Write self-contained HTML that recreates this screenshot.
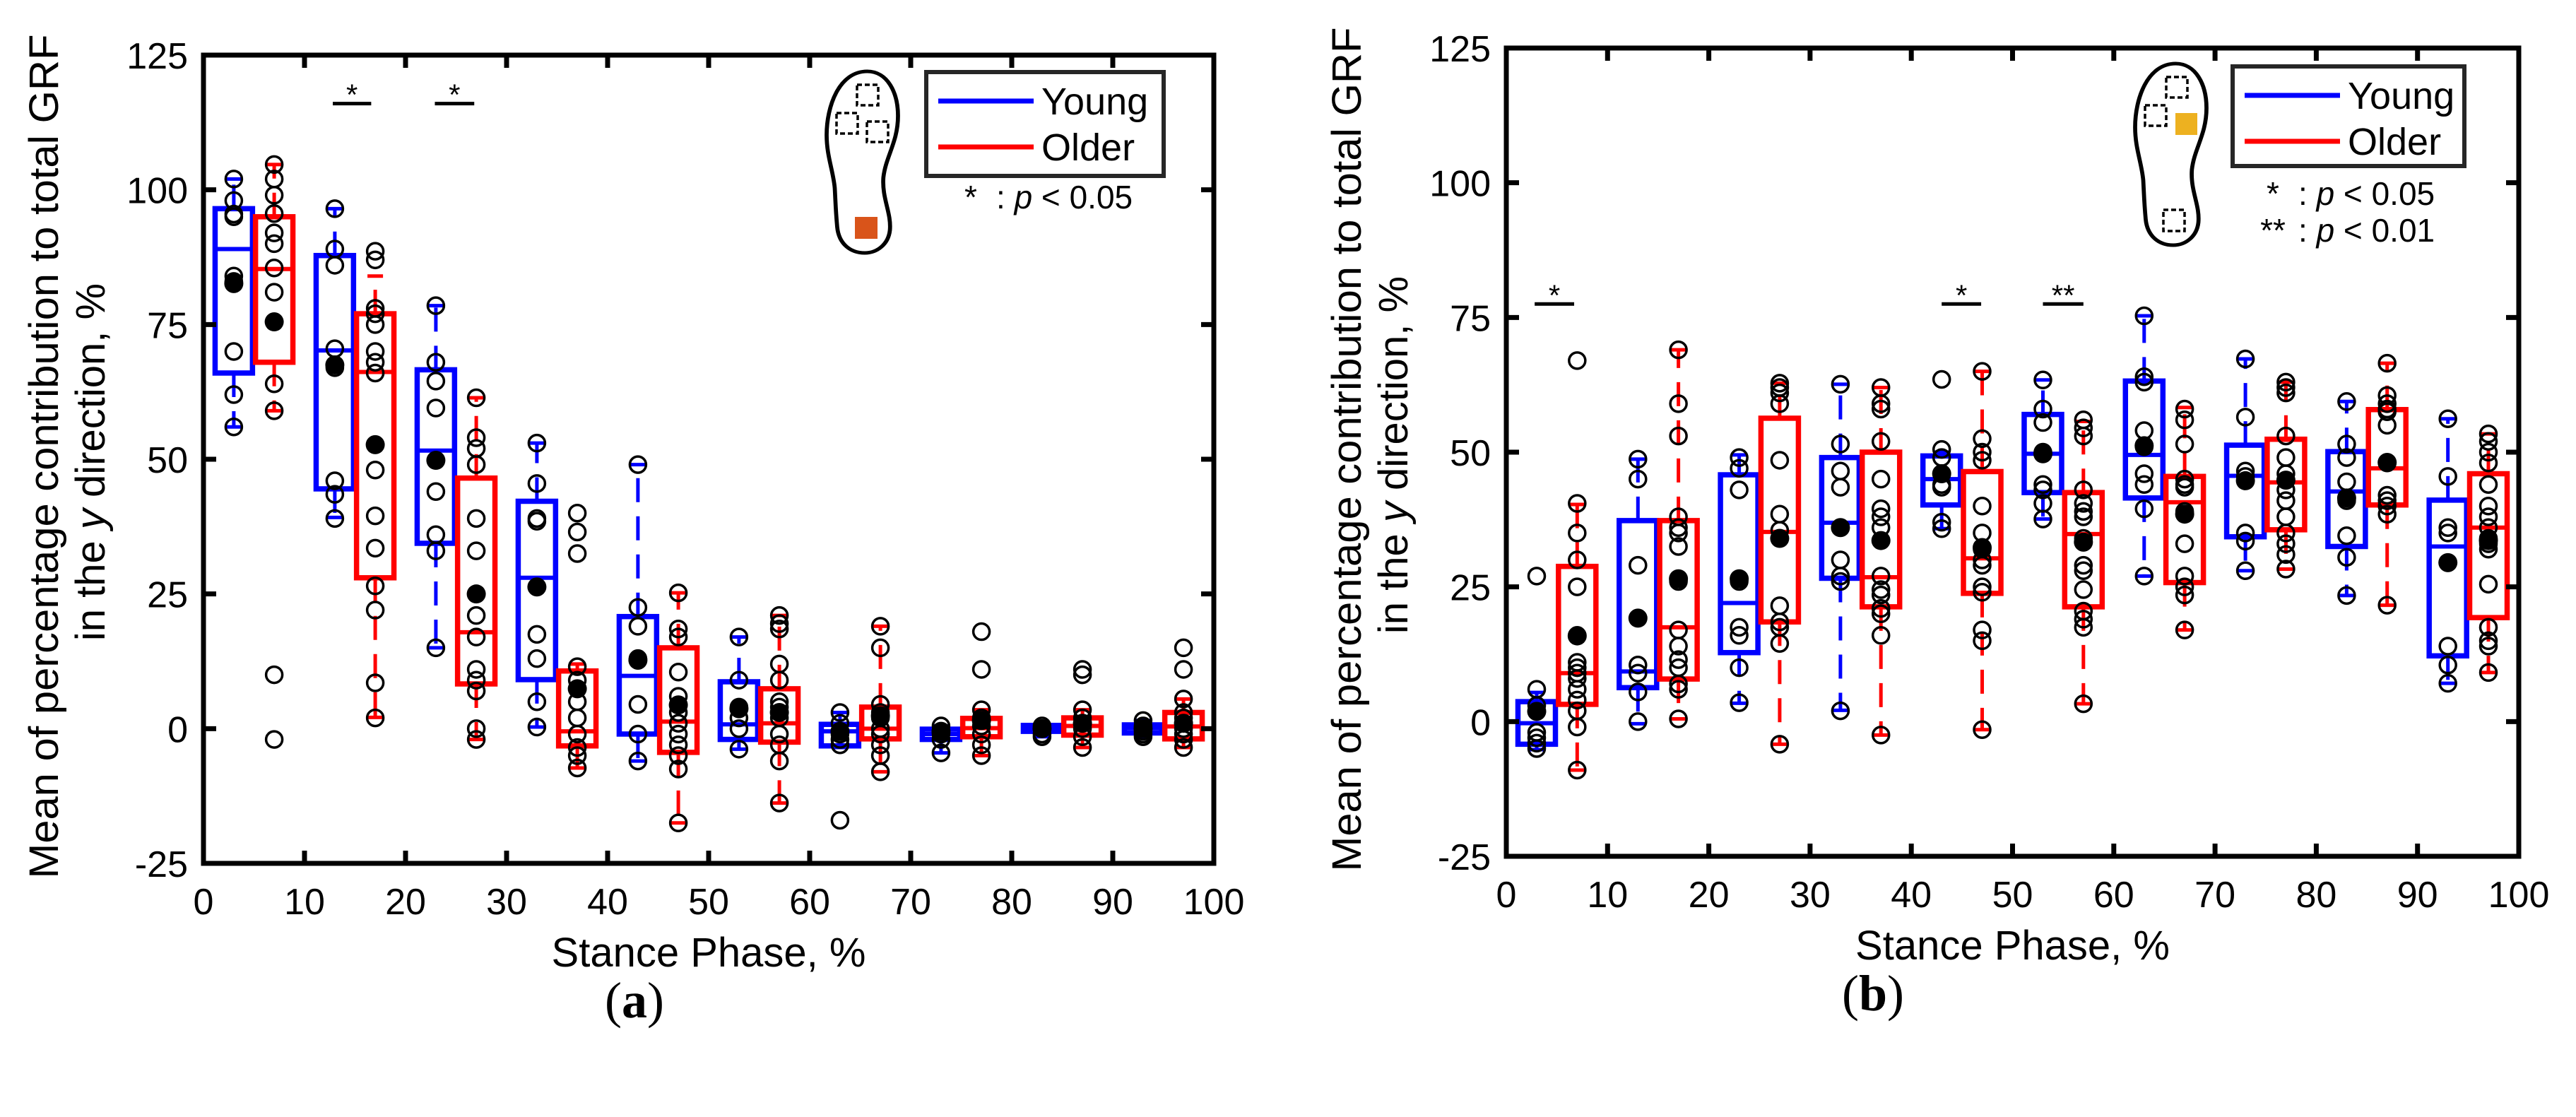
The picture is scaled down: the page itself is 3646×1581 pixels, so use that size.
<!DOCTYPE html>
<html><head><meta charset="utf-8"><style>
html,body{margin:0;padding:0;background:#fff;}
svg{display:block;font-family:"Liberation Sans",Arial,sans-serif;}
</style></head><body>
<svg id="fig" width="3646" height="1581" viewBox="0 0 3646 1581" xmlns="http://www.w3.org/2000/svg">
<rect width="3646" height="1581" fill="#fff"/>
<g id="panelA"></g>
<g id="panelB"></g>
</svg>
<script>
// ---- shared categories ----
const positions = [3,7,13,17,23,27,33,37,43,47,53,57,63,67,73,77,83,87,93,97];
const groups = ["Young","Older","Young","Older","Young","Older","Young","Older","Young","Older","Young","Older","Young","Older","Young","Older","Young","Older","Young","Older"];
const xTicks = [0,10,20,30,40,50,60,70,80,90,100];
const yTicks = [-25,0,25,50,75,100,125];

// ---- panel (a) data ----
const aLow  = [56,59,39.2,2.1,15,-2,0.3,-7.3,-6,-17.5,-3.8,-13.8,-3.5,-8,-4.5,-5,-1.5,-3.5,-1.5,-3.5];
const aQ1   = [66,68,44.5,28,34.4,8.3,9.1,-3.2,-1,-4.4,-2,-2.5,-3.2,-1.9,-2,-1.5,-0.5,-1.2,-0.8,-1.9];
const aMed  = [89,85.3,70.2,66.2,51.6,17.9,28,-0.5,9.8,1.3,0.8,1,-0.5,0,-1,0.1,0.1,0.5,0.1,0.4];
const aQ3   = [96.5,95,87.8,77,66.6,46.5,42.2,10.7,20.8,15,8.7,7.4,0.8,4,-0.1,1.9,0.6,2,0.7,3];
const aHigh = [102,104.7,96.5,84,78.5,61.4,53,12,49,25.2,17,21,3,19,0.5,3.5,0.5,3.5,1.5,5.5];
const aMean = [82.6,75.5,67.5,52.7,49.8,25,26.3,7.4,12.7,4.4,3.7,3,-0.5,2.4,-0.5,1.5,0,1,0,1];
const aPoints = [
 [102,98,95.5,95,84,83,70,62,56],
 [104.7,102,99,95.6,92,90,85.5,81,64,59,10,-2],
 [96.5,89,86,70.5,67,46,43.5,39],
 [88.6,87,78,77,75,70,68,66,48,39.5,33.5,26.5,22,8.5,2],
 [78.5,68,64.5,59.5,44,36,33,15],
 [61.4,54,52,49,39,33,21,17,11,9,7,0,-2],
 [53,45.5,39,38.5,17.5,13,5,0.3],
 [40,36.5,32.5,11.5,9,5,2,-1,-3.5,-5,-7.3],
 [49,22.5,19,13,4.5,-1,-6],
 [25.2,18.5,17,10.5,6,3,1,-1,-3,-5,-7.5,-17.5],
 [17,9,4,2,0,-3.8],
 [21,19.5,18.5,12,9,5,4,2,-1,-3,-6,-13.8],
 [3,1,-1,-2,-3,-17],
 [19,15,4.5,3,2,0,-1,-3,-5,-8],
 [0.5,-1,-2,-4.5],
 [18,11,3.5,2,0.5,-1,-3,-5],
 [0.5,0,-1,-1.5],
 [11,10,3.5,2,1,0,-1.5,-3.5],
 [1.5,0.5,-0.5,-1,-1.5],
 [15,11,5.5,3,2,1,0,-1,-2,-3.5]
];
const aSigFrom = [12.8,22.9];
const aSigTo   = [16.6,26.8];
const aSigLabel = ["*","*"];
const aSigY = 116;

// ---- panel (b) data ----
const bLow  = [-5.2,-9,-0.4,0.5,3.4,-4.2,2.1,-2.5,35.8,-1.5,37.6,3.3,27,17,28,28.3,23.4,21.6,7.1,9.1];
const bQ1   = [-4.2,3.2,6.3,7.9,12.8,18.5,26.6,21.3,40.2,23.8,42.5,21.3,41.5,25.8,34.3,35.6,32.5,40.2,12.2,19.3];
const bMed  = [-0.3,9,9.3,17.5,22,35.2,36.9,26.8,45,30.3,49.7,34.8,49.5,40.7,45.6,44.4,42.7,47,32.5,36];
const bQ3   = [3.7,28.8,37.3,37.3,45.8,56.3,49,50,49.3,46.4,57,42.5,63.2,45.5,51.3,52.4,50.1,57.9,41.1,46];
const bHigh = [5.4,40.3,48.7,69,49.5,62.8,62.6,62,50,65,63.4,55.7,75.3,58.3,67.3,63,59.4,66.5,56.2,53.4];
const bMean = [1.9,15.9,19.2,26.5,26.5,34,36,33.6,46,32.3,49.7,33.3,51.2,38.5,44.7,44.8,41.5,48.1,29.5,33.6];
const bPoints = [
 [27,6,3,-2,-3,-4,-5],
 [67,40.5,35,30,25,16,11,10,9,8,6,4,2,-1,-9],
 [48.7,45,29,10.5,9,5.5,0],
 [69,59,53,38,36,35,32.5,26,17,14,11.5,10,7,6,0.5],
 [49,47,43,26,17.5,16,10,3.5],
 [62.8,62,61,59,48.5,38.5,35.5,21.5,18.5,17.5,14.5,-4.2],
 [62.6,51.5,46.5,43.5,36,30,27,26,2],
 [62,59,58,52,45,39.5,38,36,27,24.5,23.5,21,20,16,-2.5],
 [63.5,50.5,49,46,44,43.5,37,35.8],
 [65,52.5,50,48.5,40,35,32,30,29,25,24,17,15,-1.5],
 [63.4,58,55.5,50,44,43,40.5,37.6],
 [56,54.5,53,43,40.5,39,38,34,29,28,24.5,20.5,19,17.5,3.3],
 [75.3,64,63,54,51,46,44,39.5,27],
 [58,56,51.5,45,44,43.5,39,33,27,25,23.5,17],
 [67.3,56.5,46.5,45.5,35,33.5,28],
 [63,62,61,53,49,46,43,41,38,35,33,31,28.3],
 [59.4,51.5,49,44.5,41,34.5,30.5,23.4],
 [66.5,60.5,59,58,57.5,55,48,42,41,40,38.5,21.6],
 [56.2,45.5,36,35,14,10.5,7.1],
 [53.4,52,50,48,44,40,38,36,34,33,32,25.5,17.5,15,14,9.1]
];
const bSigFrom = [2.8,43,53];
const bSigTo   = [6.7,46.9,57];
const bSigLabel = ["*","*","**"];
const bSigY = 77.5;

const NS = "http://www.w3.org/2000/svg";
function mk(parent, tag, attrs){
  const e = document.createElementNS(NS, tag);
  for (const k in attrs) e.setAttribute(k, attrs[k]);
  parent.appendChild(e);
  return e;
}
const COL = {Young:"#0000ff", Older:"#ff0000"};

function drawPanel(g, cfg, low, q1, med, q3, high, mean, pts, sFrom, sTo, sLab, sY){
  const X = v => cfg.x0 + (v - 0) / 100 * (cfg.x1 - cfg.x0);
  const Y = v => cfg.yb - (v + 25) / 150 * (cfg.yb - cfg.yt);
  const bw = 3.7;
  for (let i = 0; i < positions.length; i++){
    const c = COL[groups[i]];
    const bg = mk(g, "g", {});
    
    
    const cx = X(positions[i]);
    const l = X(positions[i] - bw/2), r = X(positions[i] + bw/2);
    const w1 = mk(bg, "line", {x1:cx, x2:cx, y1:Y(q3[i]), y2:Y(high[i]), stroke:c, "stroke-width":5, "stroke-dasharray":"34,20"});
    
    
    const w2 = mk(bg, "line", {x1:cx, x2:cx, y1:Y(q1[i]), y2:Y(low[i]), stroke:c, "stroke-width":5, "stroke-dasharray":"34,20"});
    
    
    const c1 = mk(bg, "line", {x1:cx-11, x2:cx+11, y1:Y(high[i]), y2:Y(high[i]), stroke:c, "stroke-width":5});
    
    
    const c2 = mk(bg, "line", {x1:cx-11, x2:cx+11, y1:Y(low[i]), y2:Y(low[i]), stroke:c, "stroke-width":5});
    
    
    const rc = mk(bg, "rect", {x:l, y:Y(q3[i]), width:r-l, height:Math.max(1, Y(q1[i]) - Y(q3[i])), fill:"none", stroke:c, "stroke-width":7.5});
    
    
    const md = mk(bg, "line", {x1:l, x2:r, y1:Y(med[i]), y2:Y(med[i]), stroke:c, "stroke-width":6});
    
    
    for (const p of pts[i]){
      const pc = mk(bg, "circle", {cx:cx, cy:Y(p), r:11.5, fill:"none", stroke:"#000", "stroke-width":3.5});
      
      
    }
    const mc = mk(bg, "circle", {cx:cx, cy:Y(mean[i]), r:13.5, fill:"#000"});
    
    
  }
  for (let i = 0; i < sFrom.length; i++){
    const sb = mk(g, "line", {x1:X(sFrom[i]), x2:X(sTo[i]), y1:Y(sY), y2:Y(sY), stroke:"#000", "stroke-width":5});
    
    
    const st = mk(g, "text", {x:(X(sFrom[i])+X(sTo[i]))/2, y:Y(sY)+2, "text-anchor":"middle", "font-size":42});
    st.textContent = sLab[i];
    
    
  }
  const fr = mk(g, "rect", {x:cfg.x0, y:cfg.yt, width:cfg.x1-cfg.x0, height:cfg.yb-cfg.yt, fill:"none", stroke:"#000", "stroke-width":7});
  
  
  for (const t of xTicks){
    const x = X(t);
    if (t > 0 && t < 100){
      mk(g, "line", {x1:x, x2:x, y1:cfg.yb, y2:cfg.yb-18, stroke:"#000", "stroke-width":7});
      mk(g, "line", {x1:x, x2:x, y1:cfg.yt, y2:cfg.yt+18, stroke:"#000", "stroke-width":7});
    }
    const tl = mk(g, "text", {x:x, y:cfg.yb+72, "text-anchor":"middle", "font-size":52});
    tl.textContent = t;
    
    
  }
  for (const t of yTicks){
    const y = Y(t);
    if (t > -25 && t < 125){
      mk(g, "line", {x1:cfg.x0, x2:cfg.x0+18, y1:y, y2:y, stroke:"#000", "stroke-width":7});
      mk(g, "line", {x1:cfg.x1, x2:cfg.x1-18, y1:y, y2:y, stroke:"#000", "stroke-width":7});
    }
    const tl = mk(g, "text", {x:cfg.x0-22, y:y+19, "text-anchor":"end", "font-size":52});
    tl.textContent = t;
    
    
  }
  const xt = mk(g, "text", {x:(cfg.x0+cfg.x1)/2, y:cfg.yb+146, "text-anchor":"middle", "font-size":58});
  xt.textContent = "Stance Phase, %";
  
  
  const yc = (cfg.yt+cfg.yb)/2;
  const y1 = mk(g, "text", {x:0, y:0, "text-anchor":"middle", "font-size":58, textLength:1195, lengthAdjust:"spacingAndGlyphs", transform:`translate(${cfg.x0-206},${yc-4}) rotate(-90)`});
  y1.textContent = "Mean of percentage contribution to total GRF";
  
  
  const y2 = mk(g, "text", {x:0, y:0, "text-anchor":"middle", "font-size":58, transform:`translate(${cfg.x0-140},${yc+4}) rotate(-90)`});
  y2.innerHTML = 'in the <tspan font-style="italic">y</tspan> direction, %';
  
  
  const pl = mk(g, "text", {x:cfg.labX, y:cfg.yb+218, "text-anchor":"middle", "font-size":72, "font-family":"Liberation Serif, serif"});
  pl.innerHTML = '(<tspan font-weight="bold">' + cfg.label + '</tspan>)';
  
  
  const L = cfg.leg;
  const lg = mk(g, "g", {});
  
  
  mk(lg, "rect", {x:L.x, y:L.y, width:L.w, height:L.h, fill:"#fff", stroke:"#262626", "stroke-width":6});
  [["Young", L.y+41], ["Older", L.y+106]].forEach(([n, yy]) => {
    const ln = mk(lg, "line", {x1:L.x+17, x2:L.x+152, y1:yy, y2:yy, stroke:COL[n], "stroke-width":7});
    
    
    const tx = mk(lg, "text", {x:L.x+163, y:yy+19, "font-size":54});
    tx.textContent = n;
    
    
  });
  cfg.notes.forEach(([star, yy]) => {
    const s = mk(g, "text", {x:cfg.noteX, y:yy, "text-anchor":"middle", "font-size":46});
    s.textContent = star;
    
    
    const t = mk(g, "text", {x:cfg.noteX+36, y:yy, "font-size":46});
    t.innerHTML = ': <tspan font-style="italic">p</tspan> &lt; ' + (star === "*" ? "0.05" : "0.01");
    
    
  });
  const F = cfg.foot;
  const fg = mk(g, "g", {transform:`translate(${F.x},${F.y}) scale(${101/88},1)`});
  
  
  mk(fg, "path", {d:"M50,0 C75,0 88,30 88,63 C88,100 73,120 70,150 C68,180 80,200 78,225 C76,245 62,257 47,257 C30,257 15,245 13,220 C11,195 11,185 10,165 C8,140 0,120 0,90 C0,50 15,0 50,0 Z", fill:"none", stroke:"#000", "stroke-width":5});
  F.dashed.forEach(d => mk(g, "rect", {x:d[0], y:d[1], width:d[2], height:d[3], fill:"none", stroke:"#000", "stroke-width":3.5, "stroke-dasharray":"7,4"}));
  const sq = mk(g, "rect", {x:F.fill[0], y:F.fill[1], width:F.fill[2], height:F.fill[3], fill:F.color});
  
  
}

drawPanel(document.getElementById('panelA'),
  {x0:288, x1:1718, yt:78, yb:1222, label:"a", labX:898,
   leg:{x:1311, y:102, w:336, h:147},
   notes:[["*",295]], noteX:1374,
   foot:{x:1170, y:101, dashed:[[1213,120,30,29],[1184,160,30,29],[1227,172,30,29]], fill:[1210,307,32,31], color:"#d9541a"}},
  aLow, aQ1, aMed, aQ3, aHigh, aMean, aPoints, aSigFrom, aSigTo, aSigLabel, aSigY);

drawPanel(document.getElementById('panelB'),
  {x0:2132, x1:3565, yt:68, yb:1212, label:"b", labX:2651,
   leg:{x:3160, y:94, w:328, h:141},
   notes:[["*",290],["**",342]], noteX:3217,
   foot:{x:3022, y:90, dashed:[[3066,109,30,29],[3036,149,30,29],[3062,297,30,30]], fill:[3079,160,31,31], color:"#edb120"}},
  bLow, bQ1, bMed, bQ3, bHigh, bMean, bPoints, bSigFrom, bSigTo, bSigLabel, bSigY);
</script>
</body></html>
